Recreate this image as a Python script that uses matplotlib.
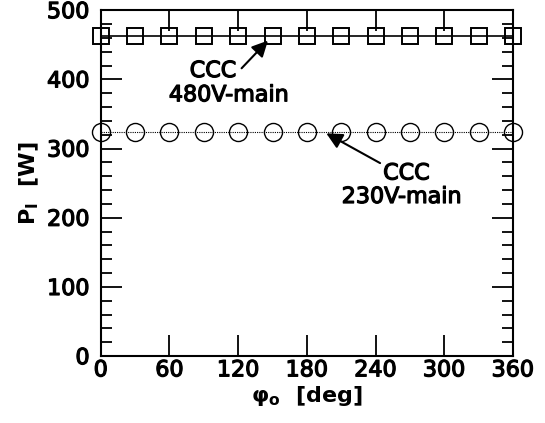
import matplotlib.pyplot as plt
import matplotlib.patheffects as pe
import numpy as np
from matplotlib.ticker import MultipleLocator

# data
phi = [0, 30, 60, 90, 120, 150, 180, 210, 240, 270, 300, 330, 360]
p_480 = [462, 462, 462, 462, 462, 462, 462, 462, 462, 462, 462, 462, 462]
p_230 = [324, 324, 324, 324, 324, 324, 324, 324, 324, 324, 324, 324, 324]

plt.rcParams['font.family'] = ['DejaVu Sans']
plt.rcParams['mathtext.fontset'] = 'custom'
plt.rcParams['mathtext.bf'] = 'DejaVu Sans:bold'
plt.rcParams['mathtext.it'] = 'DejaVu Sans:bold'
plt.rcParams['mathtext.rm'] = 'DejaVu Sans:bold'

fig = plt.figure(figsize=(5.45, 4.23), dpi=100)
ax = fig.add_axes([0.185, 0.158, 0.756, 0.818])

ax.plot(phi, p_480, color='black', lw=1.2, marker='s', ms=12,
        mfc='none', mec='black', mew=1.4, clip_on=False)
ax.plot(phi, p_230, color='black', lw=0.8, ls=(0, (1, 1)), marker='o', ms=13,
        mfc='none', mec='black', mew=1.0, clip_on=False)

ax.set_xlim(0, 360)
ax.set_ylim(0, 500)
ax.xaxis.set_major_locator(MultipleLocator(60))
ax.yaxis.set_major_locator(MultipleLocator(100))
ax.yaxis.set_minor_locator(MultipleLocator(20))
ax.tick_params(which='both', direction='in', top=True, right=True, labelsize=16)
ax.tick_params(which='major', length=15, width=1.3)
ax.tick_params(which='minor', length=8, width=1.3)
ax.tick_params(axis='y', which='major', pad=8)
ax.tick_params(axis='x', which='major', pad=3)
for s in ax.spines.values():
    s.set_linewidth(1.5)

ax.set_xlabel(r'$\varphi_\mathrm{o}$  [deg]', fontsize=16, fontweight='bold', labelpad=3)
ax.set_ylabel(r'P$_\mathrm{I}$  [W]', fontsize=16, fontweight='bold', labelpad=4)

arrow = dict(arrowstyle='-|>', color='black', lw=1.5, mutation_scale=24,
             shrinkA=0, shrinkB=0)
ax.annotate('', xy=(146, 456), xytext=(123, 416), arrowprops=arrow)
ax.annotate('', xy=(197, 322), xytext=(244, 279), arrowprops=arrow)

labels = [
    ax.text(98, 412, 'CCC', ha='center', va='center', fontsize=16),
    ax.text(112, 377, '480V-main', ha='center', va='center', fontsize=16),
    ax.text(267, 264, 'CCC', ha='center', va='center', fontsize=16),
    ax.text(263, 230, '230V-main', ha='center', va='center', fontsize=16),
]

# slightly heavier strokes for the plain-weight text
stroke = [pe.withStroke(linewidth=0.9, foreground='black')]
for t in labels + ax.get_xticklabels() + ax.get_yticklabels():
    t.set_path_effects(stroke)

fig.savefig('out.png', dpi=100)
